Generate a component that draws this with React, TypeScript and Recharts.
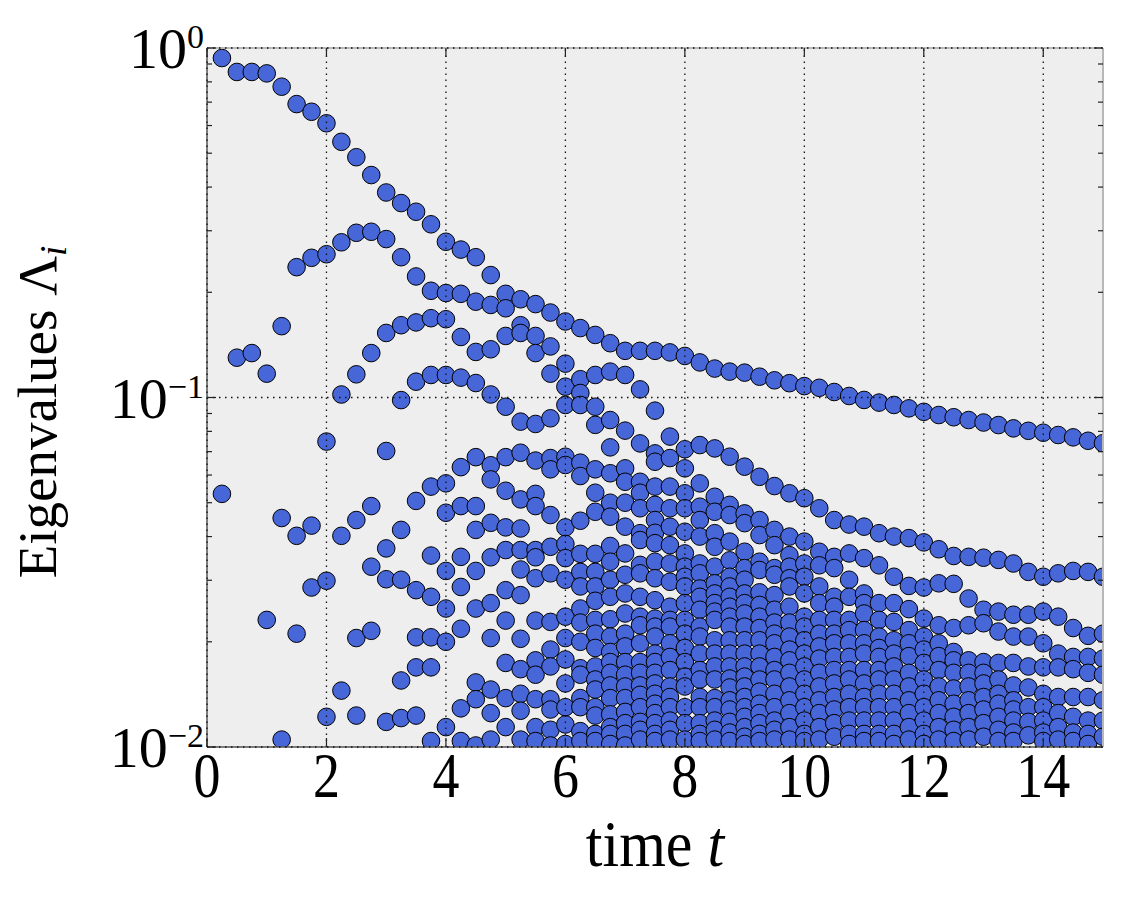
import React from 'react';
import { ScatterChart, Scatter, XAxis, YAxis, ReferenceLine, CartesianGrid } from 'recharts';

// sample times (every 0.25)
const times = [
  0.25, 0.5, 0.75, 1, 1.25, 1.5, 1.75, 2, 2.25, 2.5, 2.75, 3, 3.25, 3.5, 3.75, 4, 4.25, 4.5, 4.75, 5,
  5.25, 5.5, 5.75, 6, 6.25, 6.5, 6.75, 7, 7.25, 7.5, 7.75, 8, 8.25, 8.5, 8.75, 9, 9.25, 9.5, 9.75, 10,
  10.25, 10.5, 10.75, 11, 11.25, 11.5, 11.75, 12, 12.25, 12.5, 12.75, 13, 13.25, 13.5, 13.75, 14, 14.25, 14.5, 14.75, 15,
];

// eigenvalues read per time step, t = 0.25 .. 5
const eigEarly = [
  [0.936, 0.053],
  [0.854, 0.13],
  [0.854, 0.134],
  [0.846, 0.117, 0.0231],
  [0.775, 0.16, 0.0452, 0.0105],
  [0.691, 0.236, 0.0402, 0.0211],
  [0.657, 0.251, 0.043, 0.0286],
  [0.609, 0.257, 0.0748, 0.0299, 0.0122],
  [0.539, 0.278, 0.102, 0.0402, 0.0145],
  [0.487, 0.296, 0.1165, 0.0446, 0.0205, 0.0123],
  [0.433, 0.298, 0.134, 0.0489, 0.0328, 0.0215],
  [0.386, 0.284, 0.153, 0.0703, 0.037, 0.0302, 0.0118],
  [0.36, 0.252, 0.161, 0.0983, 0.0418, 0.0301, 0.0155, 0.0121],
  [0.34, 0.222, 0.164, 0.111, 0.0506, 0.0281, 0.0206, 0.0169, 0.0123],
  [0.313, 0.202, 0.1686, 0.116, 0.0556, 0.0353, 0.0269, 0.0206, 0.0169, 0.0104],
  [0.279, 0.199, 0.1675, 0.116, 0.0568, 0.0468, 0.0319, 0.0249, 0.02, 0.0114],
  [0.265, 0.198, 0.149, 0.114, 0.0632, 0.0489, 0.035, 0.0287, 0.0218, 0.0129, 0.0104],
  [0.252, 0.188, 0.135, 0.11, 0.0675, 0.0489, 0.0418, 0.0319, 0.0249, 0.0153, 0.0137, 0.0101],
  [0.224, 0.184, 0.1374, 0.102, 0.064, 0.0583, 0.0438, 0.0349, 0.0258, 0.0205, 0.0146, 0.0125, 0.0105],
  [0.198, 0.18, 0.15, 0.0941, 0.0675, 0.0541, 0.0425, 0.0366, 0.0281, 0.023, 0.0174, 0.0138, 0.0114],
];

// t = 5.25 .. 10
const eigMid = [
  [0.191, 0.161, 0.153, 0.0853, 0.0695, 0.0511, 0.0422, 0.0366, 0.0322, 0.0272, 0.0204, 0.0167, 0.0142, 0.0127, 0.0105],
  [0.185, 0.15, 0.134, 0.084, 0.066, 0.053, 0.0489, 0.0366, 0.0349, 0.0304, 0.023, 0.0177, 0.0161, 0.0137, 0.0114, 0.0104],
  [0.175, 0.14, 0.117, 0.0872, 0.0671, 0.0623, 0.0461, 0.0374, 0.0314, 0.0228, 0.019, 0.017, 0.0137, 0.0128, 0.0112, 0.0101],
  [0.165, 0.125, 0.1074, 0.0952, 0.0677, 0.0641, 0.0425, 0.0381, 0.0347, 0.0301, 0.0236, 0.0205, 0.0178, 0.0152, 0.013, 0.0116, 0.0102],
  [0.158, 0.1128, 0.103, 0.0952, 0.0651, 0.0596, 0.0444, 0.0357, 0.0317, 0.0288, 0.0249, 0.0227, 0.02, 0.0168, 0.0161, 0.0138, 0.013, 0.0111, 0.0104],
  [0.151, 0.116, 0.0941, 0.0835, 0.0623, 0.0534, 0.0471, 0.0357, 0.0317, 0.0288, 0.0262, 0.0231, 0.0211, 0.0192, 0.017, 0.0156, 0.0146, 0.013, 0.0123, 0.0109, 0.0104],
  [0.143, 0.1186, 0.0862, 0.072, 0.0607, 0.05, 0.0456, 0.0376, 0.0339, 0.0301, 0.0269, 0.0232, 0.0207, 0.0187, 0.0175, 0.0163, 0.015, 0.0138, 0.0124, 0.0114, 0.0109, 0.0102],
  [0.136, 0.116, 0.0804, 0.0627, 0.0574, 0.05, 0.0427, 0.0358, 0.0311, 0.0275, 0.0241, 0.0211, 0.0194, 0.0175, 0.0161, 0.0149, 0.0138, 0.0126, 0.0117, 0.0109, 0.0101],
  [0.136, 0.1055, 0.0739, 0.0574, 0.0534, 0.0482, 0.0409, 0.0391, 0.0332, 0.0314, 0.0269, 0.0236, 0.0223, 0.0198, 0.0175, 0.0163, 0.015, 0.0141, 0.013, 0.0118, 0.0112, 0.0105],
  [0.136, 0.0917, 0.0692, 0.0655, 0.0556, 0.0493, 0.0446, 0.041, 0.0383, 0.0339, 0.0304, 0.0263, 0.0233, 0.0221, 0.0207, 0.0185, 0.0175, 0.0163, 0.0152, 0.0142, 0.0133, 0.0125, 0.0117, 0.0109, 0.0104],
  [0.1346, 0.0773, 0.0671, 0.0556, 0.0482, 0.0427, 0.0378, 0.0335, 0.0297, 0.0252, 0.0231, 0.0221, 0.0198, 0.0181, 0.0166, 0.0149, 0.0139, 0.013, 0.0119, 0.0112, 0.0105],
  [0.1315, 0.0711, 0.0627, 0.0532, 0.0482, 0.0413, 0.0358, 0.0328, 0.0307, 0.0288, 0.0258, 0.0231, 0.0211, 0.0192, 0.0175, 0.0159, 0.0149, 0.013, 0.0117, 0.0105],
  [0.126, 0.0731, 0.0568, 0.0487, 0.0446, 0.04, 0.0335, 0.0314, 0.0284, 0.0269, 0.0247, 0.0221, 0.0207, 0.0185, 0.0166, 0.0156, 0.0139, 0.013, 0.0117, 0.0109, 0.0104],
  [0.121, 0.0715, 0.052, 0.0471, 0.0409, 0.0374, 0.0328, 0.0294, 0.0275, 0.0258, 0.0244, 0.0231, 0.0202, 0.0185, 0.017, 0.0156, 0.0138, 0.013, 0.0119, 0.0112, 0.0105],
  [0.1186, 0.0677, 0.0493, 0.0461, 0.0387, 0.0342, 0.0307, 0.0288, 0.0269, 0.0252, 0.0236, 0.0221, 0.0202, 0.0185, 0.017, 0.0157, 0.0148, 0.0136, 0.0128, 0.0118, 0.011, 0.0104],
  [0.1178, 0.0634, 0.0466, 0.0437, 0.0362, 0.0325, 0.0301, 0.0275, 0.0258, 0.0241, 0.0221, 0.0202, 0.0185, 0.017, 0.0159, 0.0149, 0.0139, 0.013, 0.0122, 0.0114, 0.0107, 0.0102],
  [0.1147, 0.0593, 0.0446, 0.0404, 0.0339, 0.0321, 0.0277, 0.0255, 0.0236, 0.0219, 0.0202, 0.0185, 0.017, 0.0156, 0.0144, 0.0133, 0.0125, 0.0117, 0.0109, 0.0104],
  [0.112, 0.0558, 0.0418, 0.0378, 0.0325, 0.0311, 0.0272, 0.0247, 0.0227, 0.0211, 0.0198, 0.0181, 0.0166, 0.0156, 0.0142, 0.013, 0.0119, 0.0112, 0.0105],
  [0.1099, 0.0532, 0.04, 0.0354, 0.0328, 0.0304, 0.0288, 0.0252, 0.0227, 0.0207, 0.019, 0.0177, 0.0163, 0.0149, 0.0136, 0.0125, 0.0114, 0.0105],
  [0.1078, 0.0515, 0.0387, 0.0335, 0.0307, 0.0275, 0.0236, 0.0221, 0.0202, 0.0185, 0.017, 0.0156, 0.0142, 0.013, 0.0119, 0.0109, 0.0104],
];

// t = 10.25 .. 15
const eigLate = [
  [0.1066, 0.0482, 0.0362, 0.0331, 0.0288, 0.0258, 0.0231, 0.0211, 0.0194, 0.0179, 0.0163, 0.0149, 0.0136, 0.0125, 0.0114, 0.0105],
  [0.1037, 0.0446, 0.035, 0.0325, 0.0269, 0.0252, 0.0231, 0.0211, 0.0198, 0.0181, 0.0166, 0.0152, 0.0139, 0.0128, 0.0117, 0.0107],
  [0.101, 0.0433, 0.0358, 0.0301, 0.0269, 0.0231, 0.0216, 0.0198, 0.0181, 0.0166, 0.0156, 0.0142, 0.013, 0.0119, 0.0109, 0.0102],
  [0.0984, 0.0427, 0.0347, 0.0275, 0.0258, 0.0241, 0.0216, 0.0198, 0.0185, 0.0166, 0.0152, 0.0139, 0.013, 0.0119, 0.0109, 0.0104],
  [0.0967, 0.0409, 0.0331, 0.0258, 0.0231, 0.0207, 0.0192, 0.0181, 0.0166, 0.0156, 0.0142, 0.013, 0.0119, 0.0109, 0.0104],
  [0.0952, 0.04, 0.0307, 0.0258, 0.0228, 0.0202, 0.0185, 0.017, 0.0156, 0.0142, 0.013, 0.0119, 0.0109, 0.0102],
  [0.0931, 0.0396, 0.0289, 0.0248, 0.0216, 0.0198, 0.0182, 0.0163, 0.0149, 0.0136, 0.0125, 0.0114, 0.0105],
  [0.091, 0.0385, 0.0286, 0.0233, 0.0207, 0.019, 0.0174, 0.0156, 0.0142, 0.013, 0.0119, 0.0109, 0.0102],
  [0.0891, 0.0368, 0.0294, 0.0223, 0.0198, 0.0182, 0.0166, 0.0149, 0.0136, 0.0125, 0.0114, 0.0105],
  [0.0878, 0.0352, 0.0293, 0.0219, 0.0187, 0.0177, 0.0163, 0.0147, 0.0133, 0.0122, 0.0112, 0.0104],
  [0.0862, 0.035, 0.0266, 0.0223, 0.0177, 0.0163, 0.0149, 0.0136, 0.0125, 0.0114, 0.0105],
  [0.0848, 0.0348, 0.0247, 0.0226, 0.0175, 0.0163, 0.0152, 0.0139, 0.0128, 0.0117, 0.0107],
  [0.0834, 0.0343, 0.0244, 0.0214, 0.0174, 0.0156, 0.0142, 0.0133, 0.0122, 0.0112, 0.0104],
  [0.0816, 0.0335, 0.0239, 0.0207, 0.0174, 0.015, 0.0136, 0.0128, 0.0119, 0.011, 0.0104],
  [0.0803, 0.0317, 0.0239, 0.0207, 0.017, 0.0148, 0.013, 0.0118, 0.0108],
  [0.0793, 0.0307, 0.0244, 0.0198, 0.0169, 0.0142, 0.013, 0.0119, 0.011, 0.0104],
  [0.0781, 0.0314, 0.0236, 0.0185, 0.0169, 0.0139, 0.0125, 0.0114, 0.0105],
  [0.0769, 0.0319, 0.0219, 0.0181, 0.0167, 0.0139, 0.0122, 0.011, 0.0104],
  [0.0752, 0.0317, 0.0208, 0.0181, 0.0163, 0.0139, 0.0119, 0.0109, 0.0102],
  [0.074, 0.0307, 0.0211, 0.0179, 0.0161, 0.0136, 0.0119, 0.0107],
];

const xTicks = [0, 2, 4, 6, 8, 10, 12, 14];
const yTicks = [
  0.01, 0.02, 0.03, 0.04, 0.05, 0.06, 0.07, 0.08, 0.09,
  0.1, 0.2, 0.3, 0.4, 0.5, 0.6, 0.7, 0.8, 0.9, 1,
];
const yGrid = [0.01, 0.1, 1];

const FONT = '"Liberation Serif", "DejaVu Serif", serif';
// plot box inside the svg
const PL = 199;
const PR = 1095;
const PT = 40;
const PB = 739;

const YTick = (props: any) => {
  const { y, payload } = props;
  const lg = Math.log10(payload.value);
  const e = Math.round(lg);
  const major = Math.abs(lg - e) < 1e-6;
  const len = major ? 9 : 5;
  return (
    <g>
      <line x1={PL} x2={PL + len} y1={y} y2={y} stroke="#222" strokeWidth={1.2} />
      <line x1={PR} x2={PR - len} y1={y} y2={y} stroke="#222" strokeWidth={1.2} />
      {major && (
        <text x={PL - 3} y={y + 20} textAnchor="end" fontFamily={FONT} fontSize={58} fill="#000">
          10
          <tspan dy={-20} fontSize={34}>{e === 0 ? '0' : `\u2212${-e}`}</tspan>
        </text>
      )}
    </g>
  );
};

const XTick = (props: any) => {
  const { x, payload } = props;
  return (
    <g>
      <line x1={x} x2={x} y1={PB} y2={PB - 9} stroke="#222" strokeWidth={1.2} />
      <line x1={x} x2={x} y1={PT} y2={PT + 9} stroke="#222" strokeWidth={1.2} />
      <text
        transform={`translate(${x}, ${PB + 50}) scale(1, 1.18)`}
        textAnchor="middle"
        fontFamily={FONT}
        fontSize={54}
        fill="#000"
      >
        {payload.value}
      </text>
    </g>
  );
};

const XTitle = () => (
  <text
    transform={`translate(${(PL + PR) / 2}, 858) scale(1, 1.1)`}
    textAnchor="middle"
    fontFamily={FONT}
    fontSize={60}
    fill="#000"
  >
    time <tspan fontStyle="italic">t</tspan>
  </text>
);

const YTitle = () => (
  <text
    x={48}
    y={404}
    transform="rotate(-90, 48, 404)"
    textAnchor="middle"
    fontFamily={FONT}
    fontSize={55}
    fill="#000"
  >
    Eigenvalues Λ<tspan fontStyle="italic" fontSize={37} dy={10}>i</tspan>
  </text>
);

const Dot = (props: any) => (
  <circle cx={props.cx} cy={props.cy} r={8.8} fill="#4766d8" stroke="#000" strokeWidth={1} />
);

const App = () => {
  const columns = [...eigEarly, ...eigMid, ...eigLate];
  const points = times.flatMap((t, i) => columns[i].map((v) => ({ t, v })));

  return (
    <div style={{ width: 1117, height: 884 }}>
      <ScatterChart width={1117} height={884} margin={{ top: 40, right: 22, bottom: 0, left: 0 }}>
        <CartesianGrid fill="#eeeeee" horizontal={false} vertical={false} />
        <XAxis
          type="number"
          dataKey="t"
          domain={[0, 15]}
          ticks={xTicks}
          interval={0}
          height={145}
          tickLine={false}
          axisLine={false}
          tick={XTick}
          allowDataOverflow
          label={<XTitle />}
        />
        <YAxis
          type="number"
          dataKey="v"
          scale="log"
          domain={[0.01, 1]}
          ticks={yTicks}
          interval={0}
          width={199}
          tickLine={false}
          axisLine={false}
          tick={YTick}
          allowDataOverflow
          label={<YTitle />}
        />
        <Scatter data={points} shape={Dot} isAnimationActive={false} />
        <ReferenceLine x={15} stroke="#b8b8b8" strokeWidth={2} zIndex={1000} />
        <ReferenceLine y={1} stroke="#b8b8b8" strokeWidth={2} zIndex={1000} />
        <ReferenceLine x={0} stroke="#555" strokeWidth={1.5} zIndex={1000} />
        <ReferenceLine y={0.01} stroke="#555" strokeWidth={1.5} zIndex={1000} />
        {xTicks.map((v) => (
          <ReferenceLine
            key={`gx${v}`}
            x={v}
            stroke="#111"
            strokeWidth={1.3}
            strokeDasharray="1.5 4.5"
            zIndex={1000}
          />
        ))}
        {yGrid.map((v) => (
          <ReferenceLine
            key={`gy${v}`}
            y={v}
            stroke="#111"
            strokeWidth={1.3}
            strokeDasharray="1.5 4.5"
            zIndex={1000}
          />
        ))}
      </ScatterChart>
    </div>
  );
};

export default App;
